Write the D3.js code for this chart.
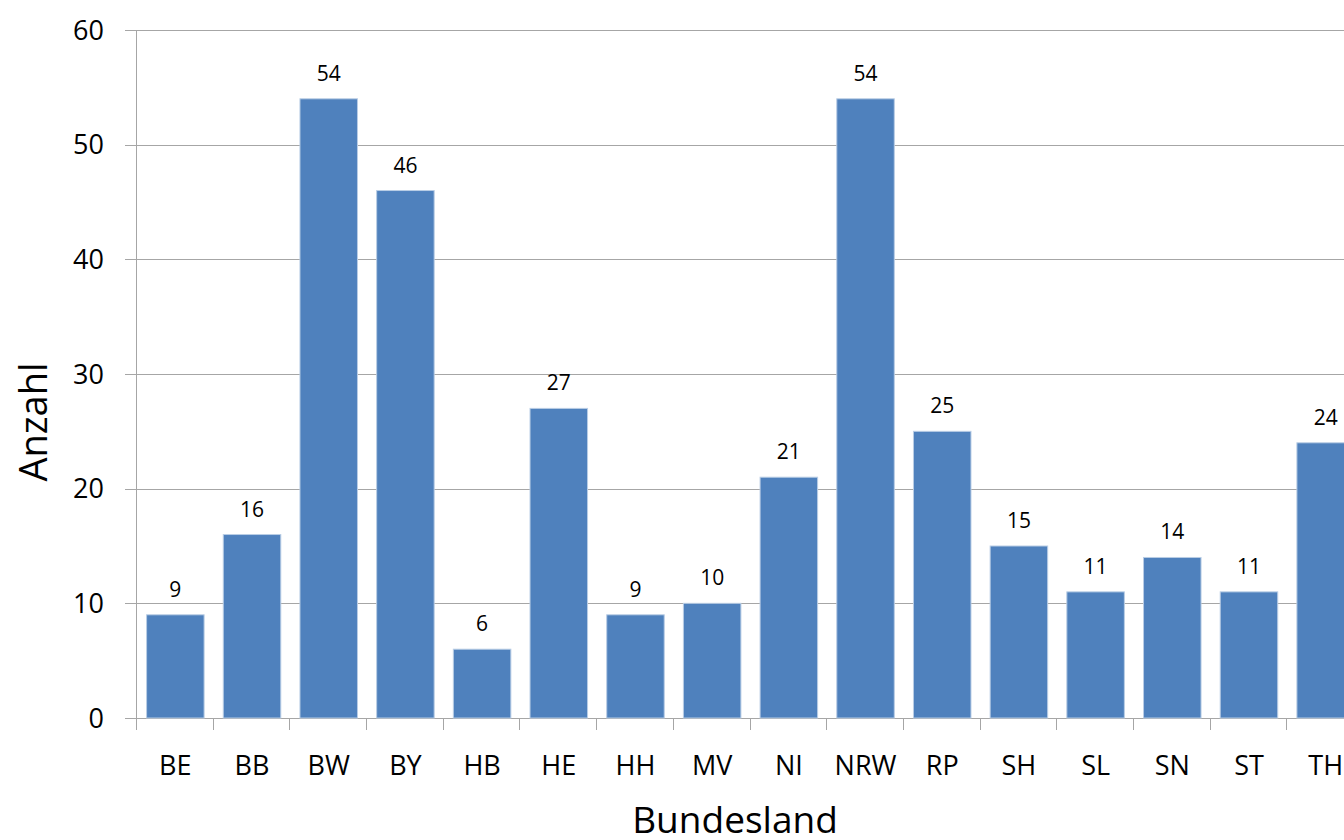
<!DOCTYPE html>
<meta charset="utf-8">
<style>
    body { margin: 0; background: #fff; }
    text { font-family: "Open Sans", "Noto Sans", sans-serif; fill: #000; }
    .grid line { stroke: #a6a6a6; stroke-width: 1; }
    .bar { fill: #4f81bd; stroke: #b9cde5; stroke-width: 1; }
</style>
<svg width="1344" height="840"></svg>
<script src="https://d3js.org/d3.v7.min.js"></script>
<script>

var laender = ["BE", "BB", "BW", "BY", "HB", "HE", "HH", "MV", "NI", "NRW", "RP", "SH", "SL", "SN", "ST", "TH"];
var anzahl = [9, 16, 54, 46, 6, 27, 9, 10, 21, 54, 25, 15, 11, 14, 11, 24];
var yTicks = [0, 10, 20, 30, 40, 50, 60];

var data = laender.map(function(d, i) { return {land: d, n: anzahl[i]}; });

var svg = d3.select("svg");
var plotLeft = 137, plotRight = 1364, plotTop = 30, plotBottom = 718;

var x = d3.scaleBand().domain(laender).range([plotLeft, plotRight])
    .paddingInner(0.25).paddingOuter(0.125);
var y = d3.scaleLinear().domain([0, 60]).range([plotBottom, plotTop]);

// gridlines
svg.append("g").attr("class", "grid")
    .selectAll("line")
    .data(yTicks)
    .enter().append("line")
    .attr("x1", plotLeft - 12).attr("x2", plotRight)
    .attr("y1", function(d) { return Math.round(y(d)) + 0.5; })
    .attr("y2", function(d) { return Math.round(y(d)) + 0.5; });

// y axis line
svg.append("line")
    .attr("x1", plotLeft - 0.5).attr("x2", plotLeft - 0.5)
    .attr("y1", plotTop).attr("y2", plotBottom + 12)
    .attr("stroke", "#a6a6a6");

// y tick labels
svg.append("g").selectAll("text")
    .data(yTicks)
    .enter().append("text")
    .attr("x", 104)
    .attr("y", function(d) { return y(d); })
    .attr("dy", "0.36em")
    .attr("text-anchor", "end")
    .style("font-size", "27px")
    .text(function(d) { return d; });

// x category boundary ticks
var gap = (x.step() - x.bandwidth()) / 2;
svg.append("g").selectAll("line")
    .data(laender)
    .enter().append("line")
    .attr("x1", function(d) { return Math.round(x(d) + x.bandwidth() + gap) - 0.5; })
    .attr("x2", function(d) { return Math.round(x(d) + x.bandwidth() + gap) - 0.5; })
    .attr("y1", plotBottom).attr("y2", plotBottom + 12)
    .attr("stroke", "#a6a6a6");

// bars
svg.append("g").selectAll(".bar")
    .data(data)
    .enter().append("rect")
    .attr("class", "bar")
    .attr("x", function(d) { return x(d.land); })
    .attr("y", function(d) { return y(d.n); })
    .attr("width", x.bandwidth())
    .attr("height", function(d) { return plotBottom - y(d.n); });

// value labels
svg.append("g").selectAll("text")
    .data(data)
    .enter().append("text")
    .attr("x", function(d) { return x(d.land) + x.bandwidth() / 2; })
    .attr("y", function(d) { return y(d.n) - 18; })
    .attr("text-anchor", "middle")
    .style("font-size", "21px")
    .text(function(d) { return d.n; });

// category labels
svg.append("g").selectAll("text")
    .data(laender)
    .enter().append("text")
    .attr("x", function(d) { return x(d) + x.bandwidth() / 2; })
    .attr("y", 775)
    .attr("text-anchor", "middle")
    .style("font-size", "27px")
    .text(function(d) { return d; });

// axis titles
svg.append("text")
    .attr("x", 735).attr("y", 833)
    .attr("text-anchor", "middle")
    .style("font-size", "37px")
    .text("Bundesland");

svg.append("text")
    .attr("transform", "translate(47,422) rotate(-90)")
    .attr("text-anchor", "middle")
    .style("font-size", "38px")
    .text("Anzahl");

</script>
